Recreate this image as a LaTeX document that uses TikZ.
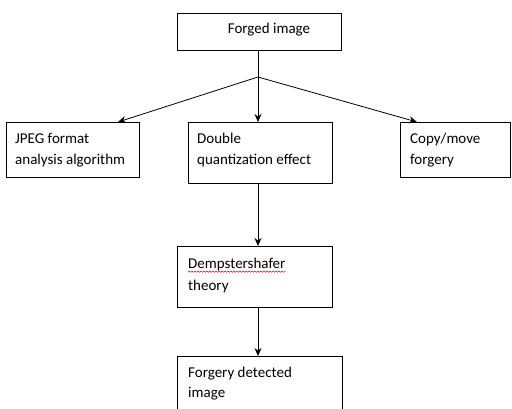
\documentclass[tikz,border=0pt]{standalone}
\usepackage{fontspec}
\setmainfont{Carlito}
\usetikzlibrary{arrows.meta,decorations.pathmorphing}
\begin{document}
\begin{tikzpicture}[x=1pt,y=-1pt,
 box/.style={draw,line width=0.8pt,rectangle,inner sep=0pt,anchor=north west},
 txt/.style={anchor=base west,inner sep=0pt,font=\fontsize{15}{21}\selectfont},
 arr/.style={line width=0.8pt,-{Stealth[length=8pt,width=7pt]}},
 ln/.style={line width=0.8pt}]
\useasboundingbox (0,0) rectangle (512,408);
\clip (0,0) rectangle (512,408);
% boxes
\node[box,minimum width=164pt,minimum height=37pt] (forged) at (177,13) {};
\node[box,minimum width=133pt,minimum height=55pt] (jpeg) at (6,122) {};
\node[box,minimum width=144pt,minimum height=61pt] (double) at (188,122) {};
\node[box,minimum width=110pt,minimum height=55pt] (copy) at (400,122) {};
\node[box,minimum width=155pt,minimum height=61pt] (demp) at (177,246) {};
\node[box,minimum width=165pt,minimum height=64pt] (fd) at (177,356) {};
% texts
\node[txt,anchor=base] (t1) at (269,33) {Forged image};
\node[txt] (t2a) at (15,143) {JPEG format};
\node[txt] (t2b) at (15,164) {analysis algorithm};
\node[txt] (t3a) at (197,143) {Double};
\node[txt] (t3b) at (197,164) {quantization effect};
\node[txt] (t4a) at (410,143) {Copy/move};
\node[txt] (t4b) at (410,164) {forgery};
\node[txt] (t5a) at (188,268) {Dempstershafer};
\node[txt] (t5b) at (188,290) {theory};
\node[txt] (t6a) at (188,377) {Forgery detected};
\node[txt] (t6b) at (188,397) {image};
\draw[red,line width=0.5pt,decorate,decoration={snake,amplitude=0.7pt,segment length=3pt}] ([yshift=-1pt]t5a.south west) -- ([yshift=-1pt]t5a.south east);
% connectors
\coordinate (br) at (258,77);
\coordinate (je) at (118,122);
\coordinate (ce) at (417,122);
\draw[ln] (forged.south -| br) -- (br);
\draw[arr] (br) -- (je);
\draw[arr] (br) -- (double.north -| br);
\draw[arr] (br) -- (ce);
\draw[arr] (double.south -| br) -- (demp.north -| br);
\draw[arr] (demp.south -| br) -- (fd.north -| br);
\end{tikzpicture}
\end{document}
